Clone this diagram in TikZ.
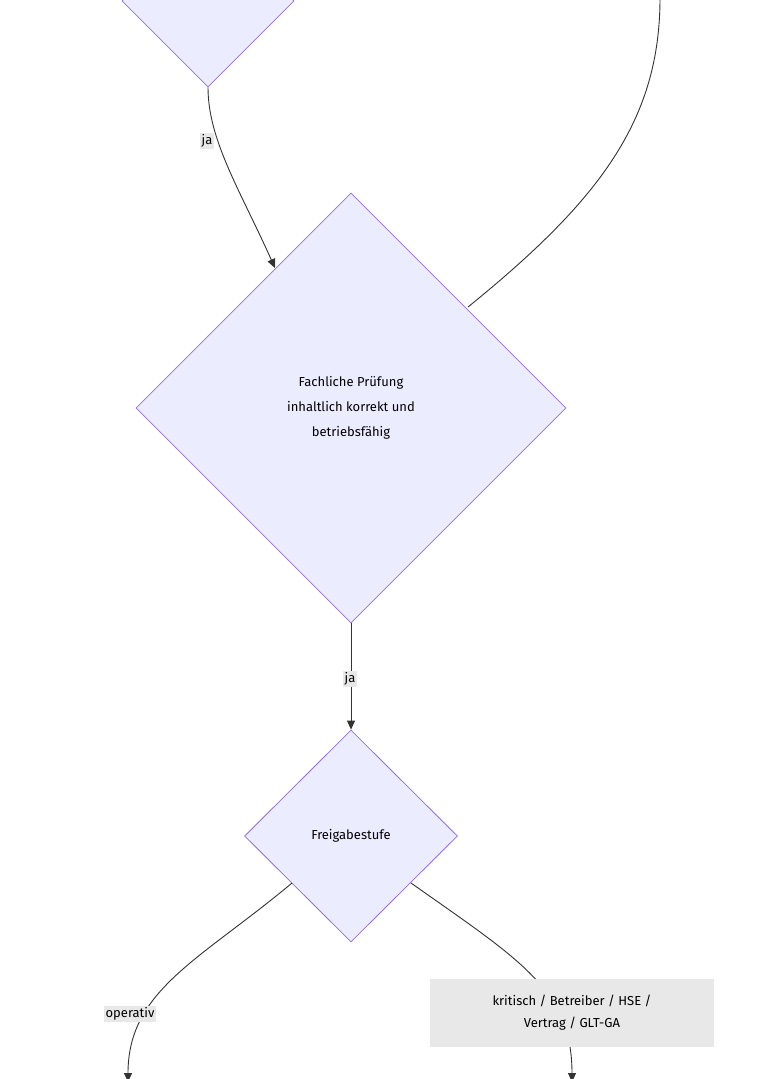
\documentclass[tikz,border=0pt]{standalone}
\usepackage{fontspec}
\setmainfont{Fira Sans}
\usetikzlibrary{shapes.geometric,arrows.meta}
\definecolor{decfill}{HTML}{ECECFF}
\definecolor{decline}{HTML}{9370DB}
\definecolor{lblfill}{HTML}{E8E8E8}
\tikzset{
    decision/.style = {
        shape=diamond, draw=decline, fill=decfill, line width=0.8pt,
        inner sep=0pt, align=center, font=\fontsize{13}{25}\selectfont,
        },
    flow/.style = {
        draw=black!80, line width=0.9pt, -{Triangle[length=9pt,width=8pt]},
        },
    edge label/.style = {
        fill=lblfill, inner sep=2pt, align=center,
        font=\fontsize{13}{22}\selectfont,
        },
}
\begin{document}
\begin{tikzpicture}[x=1pt,y=-1pt]
    \useasboundingbox (0,0) rectangle (769,1079);
    \fill[white] (0,0) rectangle (769,1079);

    \node[decision, minimum width=172pt, minimum height=172pt] (pruef) at (208,1) {};
    \node[decision, minimum width=430pt, minimum height=430pt] (fach) at (351,408)
        {Fachliche Prüfung\\inhaltlich korrekt und\\betriebsfähig};
    \node[decision, minimum width=213pt, minimum height=212pt] (stufe) at (351,836) {Freigabestufe};

    \coordinate (back) at (660,-2);
    \coordinate (op) at (128,1082);
    \coordinate (krit) at (572,1082);

    \draw[flow] (pruef.south) .. controls (208,140) and (240,190) .. (275,268);
    \node[edge label] (ja1) at (207,141) {ja};
    \draw[draw=black!80, line width=0.9pt] (468,307) .. controls (600,200) and (660,120) .. (back);

    \draw[flow] (fach.south) -- (stufe.north);
    \node[edge label] (ja2) at (350,679) {ja};

    \draw[flow] (292,883) .. controls (200,960) and (128,990) .. (op);
    \node[edge label] (lop) at (130,1014) {operativ};
    \draw[flow] (411,883) .. controls (520,960) and (572,990) .. (krit);
    \node[edge label, minimum width=284pt, minimum height=68pt] (lkrit) at (572,1013)
        {kritisch / Betreiber / HSE /\\Vertrag / GLT-GA};
\end{tikzpicture}
\end{document}
